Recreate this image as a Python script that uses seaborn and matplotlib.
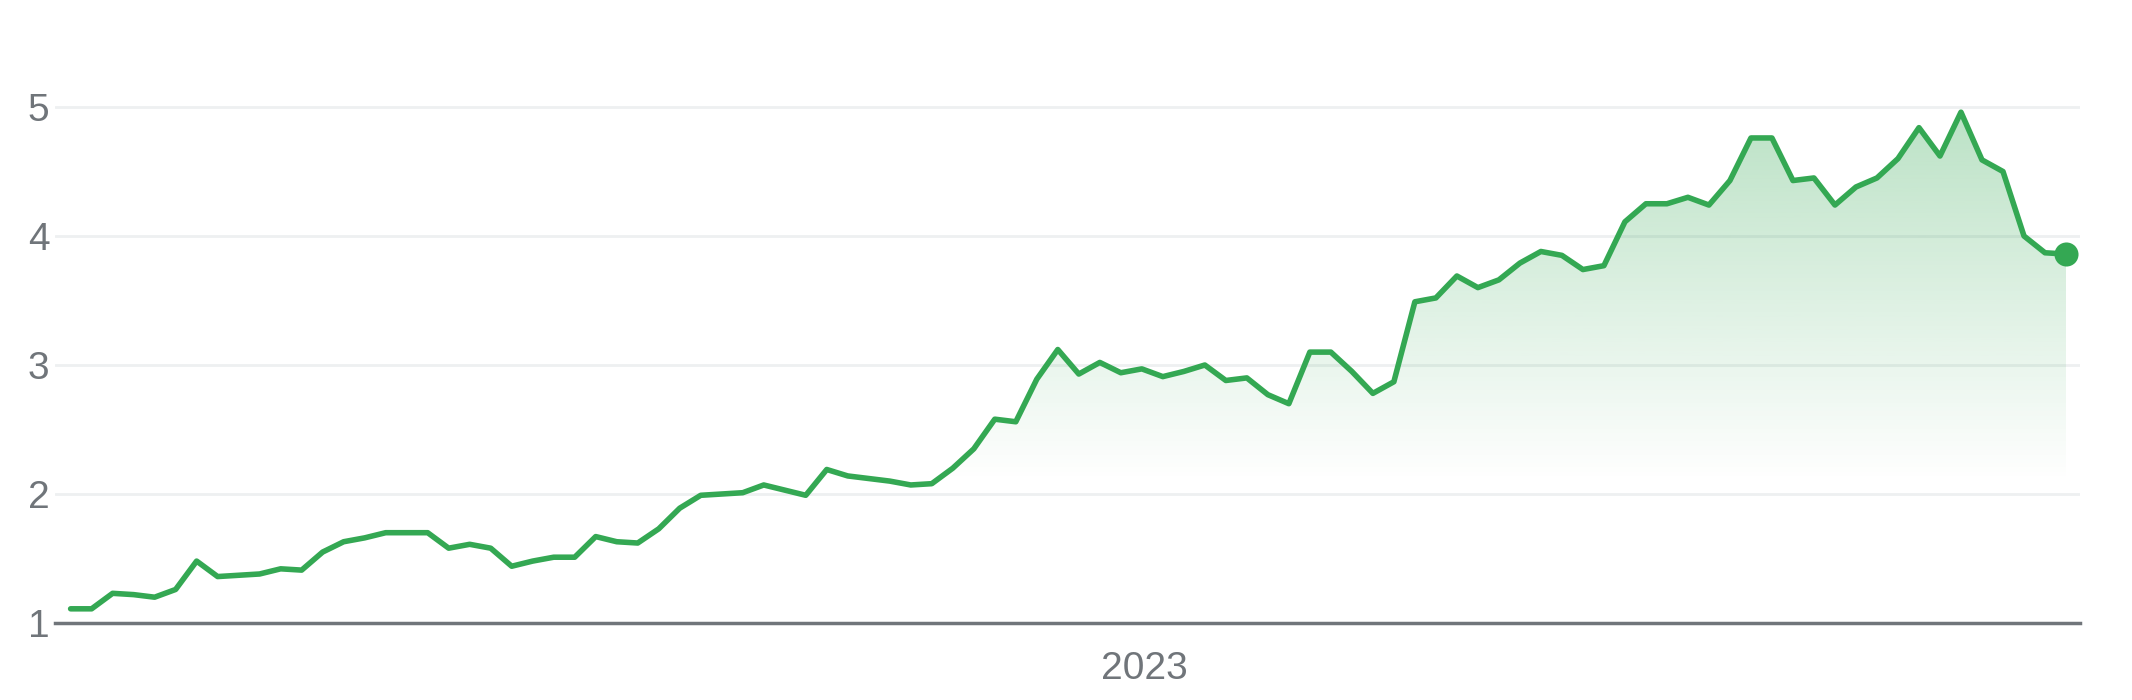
import numpy as np
import pandas as pd
import matplotlib
matplotlib.use("Agg")
import matplotlib.pyplot as plt
import matplotlib.dates as mdates
import seaborn as sns

# weekly closing values
prices = [1.11, 1.11, 1.23, 1.22, 1.20, 1.26, 1.48, 1.36, 1.37, 1.38,
          1.42, 1.41, 1.55, 1.63, 1.66, 1.70, 1.70, 1.70, 1.58, 1.61,
          1.58, 1.44, 1.48, 1.51, 1.51, 1.67, 1.63, 1.62, 1.73, 1.89,
          1.99, 2.00, 2.01, 2.07, 2.03, 1.99, 2.19, 2.14, 2.12, 2.10,
          2.07, 2.08, 2.20, 2.35, 2.58, 2.56, 2.89, 3.12, 2.93, 3.02,
          2.94, 2.97, 2.91, 2.95, 3.00, 2.88, 2.90, 2.77, 2.70, 3.10,
          3.10, 2.95, 2.78, 2.87, 3.49, 3.52, 3.69, 3.60, 3.66, 3.79,
          3.88, 3.85, 3.74, 3.77, 4.11, 4.25, 4.25, 4.30, 4.24, 4.43,
          4.76, 4.76, 4.43, 4.45, 4.24, 4.38, 4.45, 4.60, 4.84, 4.62,
          4.96, 4.59, 4.50, 4.00, 3.87, 3.86]
dates = pd.date_range("2022-01-08", periods=len(prices), freq="7D")
y_ticks = [1, 2, 3, 4, 5]
x_tick_dates = [pd.Timestamp("2023-01-01")]
x_tick_labels = ["2023"]

green = "#34a853"
grey = "#70757a"

df = pd.DataFrame({"date": dates, "price": prices})

sns.set_style("white")
plt.rcParams["font.family"] = ["Liberation Sans", "DejaVu Sans"]

fig = plt.figure(figsize=(21.32, 7), dpi=100)
ax = fig.add_axes([0.0258, 0.11, 0.95, 0.8477])

sns.lineplot(data=df, x="date", y="price", color=green, linewidth=4, ax=ax, zorder=3)

# gradient fill under the line (image clipped to the area below the line)
xn = mdates.date2num(df["date"])
ymin, ymax = 1.0, 5.6
grad = np.linspace(1, 0, 300)
alpha = np.clip((ymin + (ymax - ymin) * grad - 2.1) / 2.9, 0, 1) * 0.34
rgba = np.zeros((300, 1, 4))
rgba[..., :3] = matplotlib.colors.to_rgb(green)
rgba[..., 3] = alpha[:, None]
poly = ax.fill_between(xn, prices, ymin, facecolor="none", edgecolor="none")
im = ax.imshow(rgba, aspect="auto", extent=[xn[0], xn[-1], ymin, ymax],
               origin="upper", zorder=2)
im.set_clip_path(poly.get_paths()[0], transform=ax.transData)

ax.scatter([xn[-1]], [prices[-1]], s=300, color=green, zorder=4, linewidths=0)

ax.set_xlim(xn[0] - 5.2, xn[0] + 669.8)
ax.set_ylim(ymin, ymax)

ax.set_yticks(y_ticks)
ax.set_yticklabels([str(t) for t in y_ticks], fontsize=28, color=grey)
ax.set_xticks(mdates.date2num(x_tick_dates))
ax.set_xticklabels(x_tick_labels, fontsize=28, color=grey)
ax.tick_params(axis="y", length=0, pad=4)
ax.tick_params(axis="x", length=14, width=2, color=grey, pad=6)

for y in y_ticks[1:]:
    ax.axhline(y, color="#eef0f1", linewidth=2, zorder=1)

for s in ["top", "right", "left"]:
    ax.spines[s].set_visible(False)
ax.spines["bottom"].set_color(grey)
ax.spines["bottom"].set_linewidth(2.5)
ax.set_xlabel("")
ax.set_ylabel("")

fig.savefig("out.png", dpi=100)
